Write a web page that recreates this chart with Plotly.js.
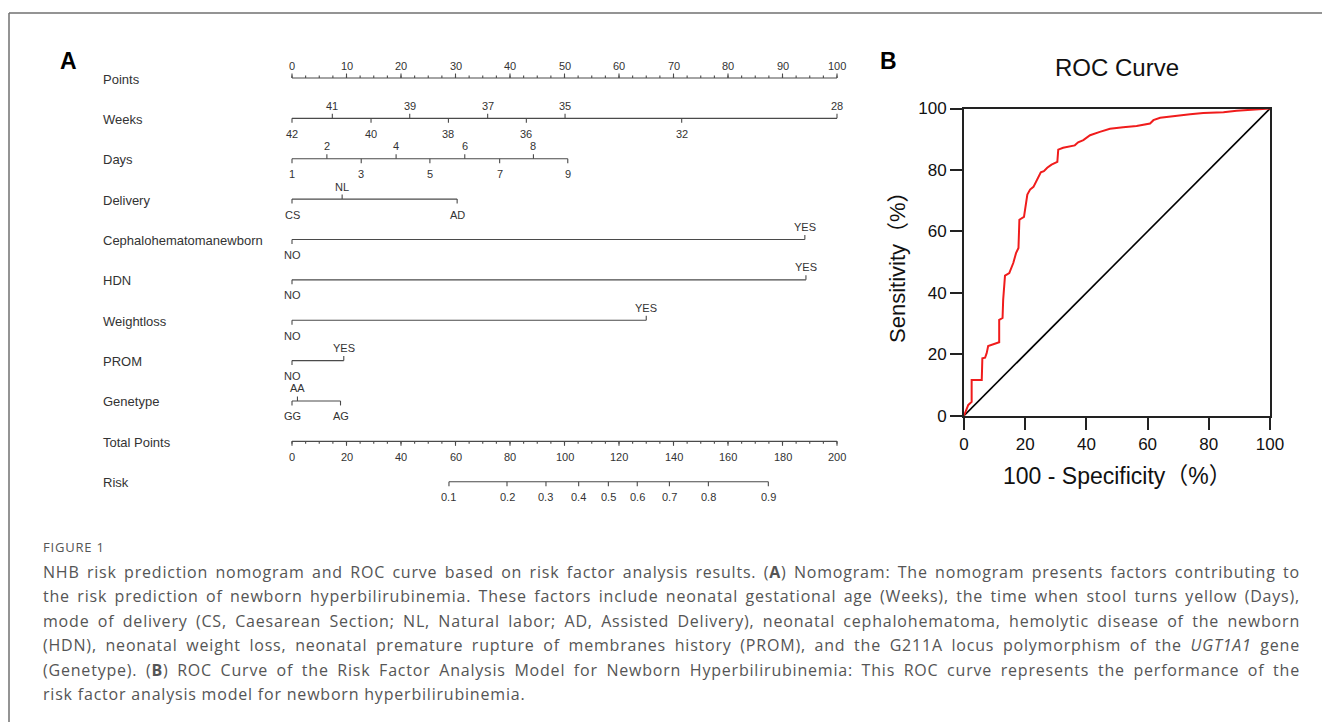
<!DOCTYPE html>
<html><head><meta charset="utf-8">
<script src="https://cdn.plot.ly/plotly-3.0.1.min.js"></script>
<style>
html,body{margin:0;padding:0;background:#fff;}
#wrap{position:relative;width:1322px;height:722px;overflow:hidden;}
#plot{position:absolute;left:0;top:0;width:1322px;height:722px;}
#cap{position:absolute;left:43px;top:538px;width:1257px;font-family:'Open Sans',sans-serif;color:#555;}
#cap .fig{font-size:13px;letter-spacing:0.8px;line-height:18px;color:#555;}
#cap .lines{margin-top:4px;}
#cap .ln{font-size:16px;line-height:24.4px;letter-spacing:0.8px;text-align:justify;text-align-last:justify;white-space:nowrap;}
#cap .last{text-align-last:left;}
</style></head><body>
<div id="wrap"><div id="plot"></div>
<div id="cap">
<div class="fig">FIGURE 1</div>
<div class="lines">
<div class="ln">NHB risk prediction nomogram and ROC curve based on risk factor analysis results. (<b>A</b>) Nomogram: The nomogram presents factors contributing to</div>
<div class="ln">the risk prediction of newborn hyperbilirubinemia. These factors include neonatal gestational age (Weeks), the time when stool turns yellow (Days),</div>
<div class="ln">mode of delivery (CS, Caesarean Section; NL, Natural labor; AD, Assisted Delivery), neonatal cephalohematoma, hemolytic disease of the newborn</div>
<div class="ln">(HDN), neonatal weight loss, neonatal premature rupture of membranes history (PROM), and the G211A locus polymorphism of the <i>UGT1A1</i> gene</div>
<div class="ln">(Genetype). (<b>B</b>) ROC Curve of the Risk Factor Analysis Model for Newborn Hyperbilirubinemia: This ROC curve represents the performance of the</div>
<div class="ln last">risk factor analysis model for newborn hyperbilirubinemia.</div>
</div></div>
</div>
<script>
// ---------------- Data ----------------
const rowNames = ['Points','Weeks','Days','Delivery','Cephalohematomanewborn','HDN','Weightloss','PROM','Genetype','Total Points','Risk'];

const pointsLabels = [0,10,20,30,40,50,60,70,80,90,100];
const weeksLabels = ['42','41','40','39','38','37','36','35','32','28'];
const weeksPoints = [0,7.4,14.5,21.6,28.7,35.9,43.0,50.1,71.5,100];
const daysLabels = ['1','2','3','4','5','6','7','8','9'];
const daysPoints = [0,6.4,12.7,19.1,25.3,31.7,38.1,44.3,50.6];
const deliveryLabels = ['CS','NL','AD'];
const deliveryPoints = [0,9.2,30.3];
const cephLabels = ['NO','YES'];
const cephPoints = [0,94.1];
const hdnLabels = ['NO','YES'];
const hdnPoints = [0,94.3];
const weightLabels = ['NO','YES'];
const weightPoints = [0,65.0];
const promLabels = ['NO','YES'];
const promPoints = [0,9.5];
const geneLabels = ['GG','AA','AG'];
const genePoints = [0,1.0,8.9];
const totalLabels = [0,20,40,60,80,100,120,140,160,180,200];
const riskLabels = ['0.1','0.2','0.3','0.4','0.5','0.6','0.7','0.8','0.9'];
const riskTotalPoints = [57.6,78.9,93.2,105.2,116.1,126.7,138.5,152.8,174.8];

const rocFpr = [0,1.4,2.5,2.5,5.8,5.8,6.0,6.9,7.4,7.9,9.0,11.5,11.5,12.6,12.8,13.4,14.8,16.1,17.0,17.8,18.1,19.6,20.7,21.6,22.7,24.0,25.1,26.1,27.2,28.6,30.5,30.8,32.4,36.2,37.3,39.0,41.2,44.4,47.7,52.0,56.4,60.8,61.9,64.1,67.3,73.9,78.2,84.8,89.1,95.6,100];
const rocTpr = [0,3.5,4.5,11.6,11.6,15.4,18.7,18.9,20.3,22.7,23.1,23.9,31.2,31.8,37.7,45.6,46.4,49.7,52.9,54.6,63.8,64.7,72.0,73.6,74.5,76.9,79.2,79.6,80.7,81.7,82.6,86.6,87.2,88.0,89.0,89.7,91.3,92.4,93.4,93.9,94.3,95.1,96.2,97.0,97.4,98.1,98.5,98.8,99.3,99.7,100];
const refLine = [0,100];

// ---------------- Layout constants ----------------
const W = 1322, H = 722;
const X0 = 292, PX_PER_PT = 5.45;      // Points scale: 0 -> 292px, 100 -> 837px
const ROW0 = 78, ROW_H = 40.37;        // first axis line y, row spacing
const TICK = 4.5 / ROW_H, MINOR = 2.5 / ROW_H;
const LINE_COL = '#4a4a4a', TXT_COL = '#333';
const NFONT = 'Liberation Sans, Arial, sans-serif';

const traces = [];
const ann = [];

function addScale(row, vals, labels, opts) {
  const xa = opts.xaxis || 'x';
  const xs = [], ys = [];
  const lo = Math.min(...vals), hi = Math.max(...vals);
  xs.push(lo, hi, null); ys.push(row, row, null);
  vals.forEach((v, i) => {
    const up = opts.side === 'above' ? true : opts.side === 'below' ? false : (i % 2 === 1);
    xs.push(v, v, null); ys.push(row, up ? row - TICK : row + TICK, null);
    ann.push({x: v, y: row, xref: xa, yref: 'y', text: String(labels[i]), showarrow: false,
      xanchor: 'center', yanchor: 'middle',
      yshift: up ? 12.5 : -15.5, font: {family: NFONT, size: 11, color: TXT_COL}});
  });
  if (opts.minor) {
    const up = opts.side === 'above';
    for (let m = lo; m <= hi + 1e-9; m += opts.minor) {
      xs.push(m, m, null); ys.push(row, up ? row - MINOR : row + MINOR, null);
    }
  }
  traces.push({type: 'scatter', mode: 'lines', x: xs, y: ys, xaxis: xa, yaxis: 'y',
    line: {color: LINE_COL, width: 1.1}, hoverinfo: 'skip'});
}

addScale(0, pointsLabels, pointsLabels, {side: 'above', minor: 2.5});
addScale(1, weeksPoints, weeksLabels, {});
addScale(2, daysPoints, daysLabels, {});
addScale(3, deliveryPoints, deliveryLabels, {});
addScale(4, cephPoints, cephLabels, {});
addScale(5, hdnPoints, hdnLabels, {});
addScale(6, weightPoints, weightLabels, {});
addScale(7, promPoints, promLabels, {});
addScale(8, genePoints, geneLabels, {});
addScale(9, totalLabels, totalLabels, {side: 'below', minor: 5, xaxis: 'x3'});
addScale(10, riskTotalPoints, riskLabels, {side: 'below', xaxis: 'x3'});

rowNames.forEach((n, i) => {
  ann.push({x: 101 / W, xref: 'paper', xanchor: 'left', yanchor: 'middle', y: i, yref: 'y', yshift: -1, text: n, showarrow: false,
    font: {family: NFONT, size: 13, color: TXT_COL}});
});

function paperAnn(px, py, text, font, extra) {
  return Object.assign({x: px / W, y: 1 - py / H, xref: 'paper', yref: 'paper', xanchor: 'center', yanchor: 'middle',
    text: text, showarrow: false, font: font}, extra || {});
}

// Panel letters
ann.push(paperAnn(68, 61, '<b>A</b>', {family: NFONT, size: 23, color: '#000'}));
ann.push(paperAnn(888, 61, '<b>B</b>', {family: NFONT, size: 23, color: '#000'}));

// ROC texts
const RFONT = 'Liberation Sans, Arial, Noto Sans CJK SC, sans-serif';
ann.push(paperAnn(1117, 67, 'ROC Curve', {family: RFONT, size: 24, color: '#111'}));
ann.push(paperAnn(1117, 476, '100 - Specificity（%）', {family: RFONT, size: 23, color: '#111'}));
ann.push(paperAnn(897, 262, 'Sensitivity（%）', {family: RFONT, size: 22, color: '#111'}, {textangle: -90}));

// ROC traces
traces.push({type: 'scatter', mode: 'lines', x: refLine, y: refLine, xaxis: 'x2', yaxis: 'y2',
  line: {color: '#000', width: 1.6}, hoverinfo: 'skip'});
traces.push({type: 'scatter', mode: 'lines', x: rocFpr, y: rocTpr, xaxis: 'x2', yaxis: 'y2',
  line: {color: '#f01c1c', width: 2, shape: 'linear'}, hoverinfo: 'skip'});

const xr = [-X0 / PX_PER_PT, (W - X0) / PX_PER_PT];
const rocAxis = {
  range: [0, 100], tickvals: [0, 20, 40, 60, 80, 100], ticks: 'outside', ticklen: 12, tickwidth: 2, tickcolor: '#222',
  showline: true, linecolor: '#222', linewidth: 2, mirror: true, showgrid: false, zeroline: false,
  tickfont: {family: RFONT, size: 17, color: '#111'}, fixedrange: true
};

const layout = {
  width: W, height: H, margin: {l: 0, r: 0, t: 0, b: 0}, paper_bgcolor: '#fff', plot_bgcolor: 'rgba(0,0,0,0)',
  showlegend: false,
  xaxis: {domain: [0, 1], range: xr, visible: false, fixedrange: true},
  xaxis3: {domain: [0, 1], overlaying: 'x', anchor: 'y', range: [xr[0] * 2, xr[1] * 2], visible: false, fixedrange: true},
  yaxis: {domain: [0, 1], range: [(H - ROW0) / ROW_H, -ROW0 / ROW_H], visible: false, fixedrange: true},
  xaxis2: Object.assign({domain: [964 / W, 1270 / W], anchor: 'y2', ticklabelstandoff: 0}, rocAxis),
  yaxis2: Object.assign({domain: [1 - 415.7 / H, 1 - 108.5 / H], anchor: 'x2'}, rocAxis),
  annotations: ann,
  shapes: [
    {type: 'line', xref: 'paper', yref: 'paper', x0: 9 / W, x1: 1, y0: 1 - 13 / H, y1: 1 - 13 / H, line: {color: '#707070', width: 1.5}},
    {type: 'line', xref: 'paper', yref: 'paper', x0: 9 / W, x1: 9 / W, y0: 1 - 13 / H, y1: 0, line: {color: '#707070', width: 1.5}}
  ]
};

Plotly.newPlot('plot', traces, layout, {staticPlot: true, displayModeBar: false});

// Fit caption lines: shrink letter-spacing if a line is wider than the block
(function fitCaption() {
  const maxW = 1257;
  document.querySelectorAll('#cap .ln').forEach(div => {
    const probe = document.createElement('span');
    probe.innerHTML = div.innerHTML;
    probe.style.cssText = 'position:absolute;visibility:hidden;white-space:nowrap;font-family:inherit;font-size:16px;';
    div.appendChild(probe);
    let ls = 0.8;
    probe.style.letterSpacing = ls + 'px';
    while (probe.offsetWidth > maxW - 4 && ls > -0.5) {
      ls -= 0.05;
      probe.style.letterSpacing = ls + 'px';
    }
    div.style.letterSpacing = ls + 'px';
    div.removeChild(probe);
  });
})();
</script>
</body></html>
